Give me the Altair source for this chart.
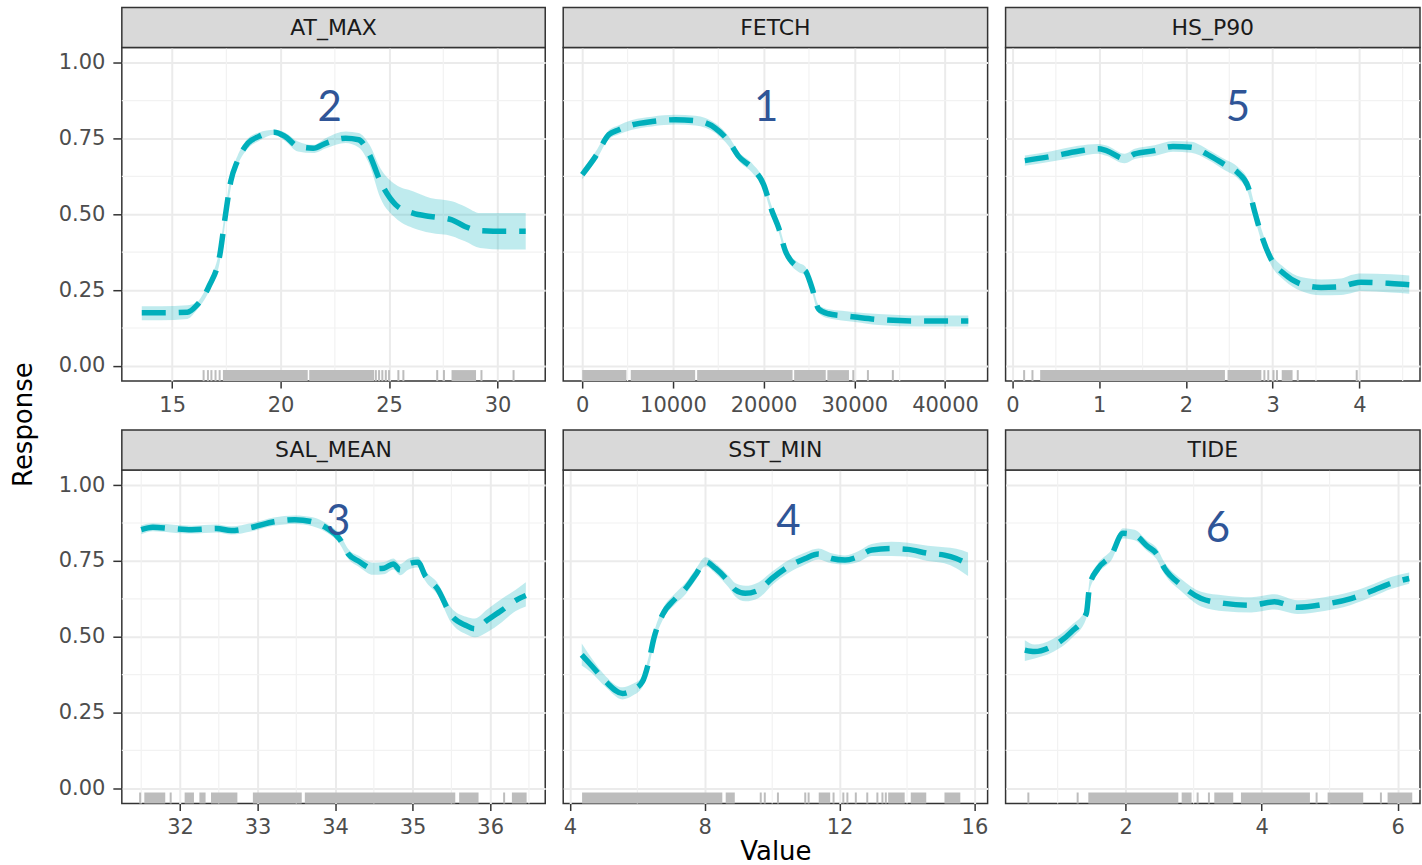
import altair as alt
import pandas as pd

# ---------------- data ----------------
names = ["AT_MAX", "FETCH", "HS_P90", "SAL_MEAN", "SST_MIN", "TIDE"]
ranks = ["2", "1", "5", "3", "4", "6"]

at_x = [13.6, 14.5, 15.7, 16.1, 16.7, 17.2, 17.46, 17.7, 18.0, 18.5, 19.0, 19.7, 20.2, 20.8, 21.5, 22.1, 23.0, 23.6, 24.1, 24.6, 25.3, 26.1, 26.9, 27.9, 28.5, 29.2, 30.3, 31.3]
at_fit = [0.175, 0.175, 0.177, 0.197, 0.263, 0.367, 0.499, 0.608, 0.674, 0.735, 0.757, 0.771, 0.757, 0.724, 0.718, 0.735, 0.751, 0.746, 0.696, 0.608, 0.532, 0.504, 0.493, 0.482, 0.460, 0.446, 0.444, 0.444]
at_lo = [0.151, 0.151, 0.155, 0.181, 0.247, 0.345, 0.477, 0.585, 0.658, 0.718, 0.742, 0.762, 0.742, 0.707, 0.702, 0.718, 0.735, 0.720, 0.663, 0.554, 0.488, 0.455, 0.439, 0.428, 0.411, 0.389, 0.384, 0.384]
at_hi = [0.197, 0.197, 0.200, 0.208, 0.280, 0.390, 0.521, 0.630, 0.691, 0.751, 0.770, 0.779, 0.770, 0.740, 0.729, 0.752, 0.773, 0.768, 0.729, 0.652, 0.598, 0.576, 0.554, 0.543, 0.526, 0.504, 0.504, 0.504]

fe_x = [0, 1470, 2940, 4040, 5500, 7700, 10280, 12480, 14680, 16150, 17250, 18720, 20000, 20920, 21650, 22390, 23850, 24590, 25320, 26060, 27160, 28620, 30090, 32660, 37060, 42570]
fe_fit = [0.631, 0.691, 0.763, 0.779, 0.795, 0.806, 0.812, 0.809, 0.784, 0.741, 0.691, 0.653, 0.598, 0.511, 0.456, 0.380, 0.325, 0.314, 0.259, 0.188, 0.172, 0.166, 0.161, 0.153, 0.148, 0.148]
fe_lo = [0.616, 0.676, 0.748, 0.764, 0.779, 0.790, 0.796, 0.793, 0.768, 0.725, 0.676, 0.638, 0.583, 0.497, 0.442, 0.366, 0.310, 0.300, 0.245, 0.174, 0.157, 0.150, 0.145, 0.135, 0.130, 0.130]
fe_hi = [0.646, 0.706, 0.778, 0.794, 0.811, 0.822, 0.828, 0.825, 0.800, 0.757, 0.706, 0.668, 0.613, 0.525, 0.470, 0.394, 0.340, 0.328, 0.273, 0.202, 0.187, 0.182, 0.177, 0.171, 0.166, 0.166]

hs_x = [0.142, 0.449, 0.756, 0.987, 1.083, 1.294, 1.409, 1.639, 1.850, 2.061, 2.253, 2.445, 2.599, 2.714, 2.791, 2.868, 2.983, 3.136, 3.328, 3.559, 3.789, 3.904, 4.019, 4.365, 4.576]
hs_fit = [0.677, 0.691, 0.708, 0.716, 0.710, 0.684, 0.699, 0.710, 0.724, 0.721, 0.697, 0.664, 0.637, 0.593, 0.511, 0.434, 0.352, 0.303, 0.270, 0.259, 0.261, 0.270, 0.276, 0.272, 0.268]
hs_lo = [0.660, 0.674, 0.690, 0.700, 0.693, 0.668, 0.682, 0.692, 0.706, 0.703, 0.680, 0.646, 0.618, 0.572, 0.490, 0.414, 0.332, 0.282, 0.247, 0.233, 0.234, 0.240, 0.247, 0.242, 0.238]
hs_hi = [0.694, 0.708, 0.726, 0.732, 0.727, 0.700, 0.716, 0.728, 0.742, 0.739, 0.714, 0.682, 0.656, 0.614, 0.532, 0.454, 0.372, 0.324, 0.293, 0.285, 0.288, 0.300, 0.305, 0.302, 0.298]

sa_x = [31.50, 31.65, 31.88, 32.15, 32.47, 32.66, 32.93, 33.21, 33.48, 33.71, 33.90, 34.06, 34.17, 34.31, 34.49, 34.63, 34.75, 34.84, 34.95, 35.07, 35.16, 35.32, 35.50, 35.69, 35.80, 35.96, 36.15, 36.33, 36.46]
sa_fit = [0.853, 0.861, 0.857, 0.853, 0.857, 0.850, 0.861, 0.879, 0.886, 0.879, 0.857, 0.822, 0.773, 0.748, 0.724, 0.726, 0.740, 0.720, 0.740, 0.746, 0.702, 0.658, 0.570, 0.537, 0.526, 0.554, 0.587, 0.620, 0.636]
sa_lo = [0.838, 0.848, 0.844, 0.840, 0.844, 0.837, 0.848, 0.866, 0.872, 0.864, 0.842, 0.806, 0.757, 0.730, 0.704, 0.706, 0.722, 0.703, 0.722, 0.728, 0.685, 0.638, 0.545, 0.508, 0.498, 0.515, 0.548, 0.585, 0.600]
sa_hi = [0.868, 0.874, 0.870, 0.866, 0.870, 0.864, 0.875, 0.893, 0.900, 0.894, 0.872, 0.838, 0.789, 0.766, 0.744, 0.746, 0.758, 0.740, 0.758, 0.764, 0.720, 0.678, 0.595, 0.566, 0.560, 0.590, 0.625, 0.655, 0.680]

ss_x = [4.35, 4.67, 5.06, 5.56, 5.85, 6.15, 6.34, 6.49, 6.74, 7.13, 7.43, 7.72, 8.02, 8.32, 8.71, 8.91, 9.20, 9.60, 9.99, 10.48, 10.98, 11.37, 11.76, 12.16, 12.55, 12.95, 13.54, 14.03, 14.62, 15.11, 15.46, 15.81]
ss_fit = [0.440, 0.401, 0.352, 0.313, 0.324, 0.352, 0.418, 0.495, 0.571, 0.626, 0.659, 0.703, 0.747, 0.725, 0.681, 0.654, 0.643, 0.654, 0.692, 0.731, 0.758, 0.773, 0.758, 0.753, 0.764, 0.786, 0.791, 0.788, 0.775, 0.769, 0.758, 0.740]
ss_lo = [0.405, 0.378, 0.334, 0.293, 0.305, 0.334, 0.400, 0.477, 0.553, 0.608, 0.640, 0.685, 0.732, 0.708, 0.662, 0.632, 0.617, 0.628, 0.670, 0.710, 0.738, 0.755, 0.742, 0.738, 0.746, 0.766, 0.766, 0.764, 0.750, 0.742, 0.726, 0.700]
ss_hi = [0.478, 0.425, 0.370, 0.333, 0.344, 0.370, 0.436, 0.513, 0.589, 0.644, 0.678, 0.722, 0.762, 0.742, 0.700, 0.676, 0.668, 0.680, 0.714, 0.752, 0.778, 0.791, 0.775, 0.768, 0.782, 0.806, 0.813, 0.810, 0.800, 0.795, 0.790, 0.778]

ti_x = [0.517, 0.663, 0.908, 1.202, 1.422, 1.471, 1.594, 1.789, 1.961, 2.132, 2.328, 2.450, 2.573, 2.818, 3.111, 3.454, 3.846, 4.188, 4.531, 4.923, 5.315, 5.657, 5.902, 6.171]
ti_fit = [0.456, 0.451, 0.467, 0.516, 0.577, 0.670, 0.725, 0.769, 0.841, 0.835, 0.797, 0.775, 0.725, 0.670, 0.626, 0.610, 0.604, 0.615, 0.597, 0.607, 0.626, 0.654, 0.676, 0.692]
ti_lo = [0.420, 0.428, 0.447, 0.494, 0.560, 0.655, 0.708, 0.752, 0.824, 0.818, 0.780, 0.757, 0.706, 0.650, 0.600, 0.584, 0.580, 0.590, 0.575, 0.585, 0.605, 0.634, 0.657, 0.675]
ti_hi = [0.488, 0.474, 0.490, 0.538, 0.594, 0.688, 0.742, 0.786, 0.858, 0.853, 0.815, 0.795, 0.745, 0.690, 0.648, 0.636, 0.630, 0.640, 0.620, 0.630, 0.648, 0.675, 0.697, 0.712]

# rug: dense stretches (start, end) and lone ticks
at_rug_start = [17.34, 21.32, 27.88]
at_rug_end = [21.25, 24.31, 29.01]
at_rug_ticks = [16.45, 16.65, 16.81, 17.0, 17.19, 24.39, 24.54, 24.69, 24.85, 25.0, 25.43, 25.66, 27.22, 27.53, 29.26, 30.74]
fe_rug_start = [0, 5350, 12670, 23370, 27030]
fe_rug_end = [4870, 12450, 23190, 26850, 29410]
fe_rug_ticks = [29890, 31500, 34250]
hs_rug_start = [0.319, 2.48, 3.105]
hs_rug_end = [2.45, 2.87, 3.23]
hs_rug_ticks = [0.134, 0.23, 2.905, 2.95, 3.01, 3.05, 3.29, 3.97]
sa_rug_start = [31.54, 32.06, 32.25, 32.40, 32.94, 33.61, 35.60, 36.28]
sa_rug_end = [31.81, 32.18, 32.33, 32.74, 33.57, 35.55, 35.85, 36.47]
sa_rug_ticks = [31.486, 31.88, 36.18]
ss_rug_start = [4.36, 8.62, 11.38, 13.44, 14.11, 15.11]
ss_rug_end = [8.52, 8.89, 11.72, 13.93, 14.57, 15.58]
ss_rug_ticks = [9.66, 9.78, 10.17, 10.98, 11.08, 11.82, 12.11, 12.23, 12.48, 12.82, 13.12, 13.27, 13.37]
ti_rug_start = [1.451, 2.824, 3.304, 3.696, 4.971, 5.853]
ti_rug_end = [2.775, 2.97, 3.583, 4.711, 5.495, 6.216]
ti_rug_ticks = [0.569, 1.294, 3.059, 3.225, 4.809, 5.755]

# rank label positions (data units)
rank_x = [22.26, 20290, 2.60, 34.04, 10.48, 3.356]
rank_y = [0.85, 0.85, 0.85, 0.877, 0.879, 0.855]

# axes
x_domains = [[12.68, 32.2], [-2100, 44700], [-0.08, 4.70], [31.25, 36.71], [3.80, 16.39], [0.234, 6.33]]
x_major = [[15, 20, 25, 30], [0, 10000, 20000, 30000, 40000], [0, 1, 2, 3, 4],
           [32, 33, 34, 35, 36], [4, 8, 12, 16], [2, 4, 6]]
x_minor = [[17.5, 22.5, 27.5], [5000, 15000, 25000, 35000], [0.5, 1.5, 2.5, 3.5, 4.5],
           [31.5, 32.5, 33.5, 34.5, 35.5, 36.5], [6, 10, 14], [1, 3, 5]]
y_major = [0, 0.25, 0.5, 0.75, 1.0]
y_minor = [0.125, 0.375, 0.625, 0.875]

curves = [(at_x, at_fit, at_lo, at_hi), (fe_x, fe_fit, fe_lo, fe_hi), (hs_x, hs_fit, hs_lo, hs_hi),
          (sa_x, sa_fit, sa_lo, sa_hi), (ss_x, ss_fit, ss_lo, ss_hi), (ti_x, ti_fit, ti_lo, ti_hi)]
rugs = [(at_rug_start, at_rug_end, at_rug_ticks), (fe_rug_start, fe_rug_end, fe_rug_ticks),
        (hs_rug_start, hs_rug_end, hs_rug_ticks), (sa_rug_start, sa_rug_end, sa_rug_ticks),
        (ss_rug_start, ss_rug_end, ss_rug_ticks), (ti_rug_start, ti_rug_end, ti_rug_ticks)]

# ---------------- styling ----------------
TEAL = "#00AFBB"
H = 334
WIDTHS = [424, 425, 415, 424, 425, 415]
STRIP = 40
FONT = "DejaVu Sans"


def make_panel(i):
    W = WIDTHS[i]
    left = i % 3 == 0
    xs, fit, lo, hi = curves[i]
    rs, re_, rt = rugs[i]
    xscale = alt.Scale(domain=x_domains[i], nice=False, zero=False)
    yscale = alt.Scale(domain=[-0.05, 1.05], nice=False, zero=False)
    xaxis = alt.Axis(values=x_major[i], format="d", grid=True,
                     title=("Value" if i == 4 else None))
    if left:
        yaxis = alt.Axis(values=y_major, format=".2f", grid=True, title=None)
    else:
        yaxis = alt.Axis(values=y_major, grid=True, labels=False, ticks=False, title=None)

    def X(f):
        return alt.X(f, type="quantitative", scale=xscale, axis=xaxis)

    def Y(f):
        return alt.Y(f, type="quantitative", scale=yscale, axis=yaxis)

    curve = pd.DataFrame({"x": xs, "fit": fit, "lo": lo, "hi": hi})
    minx = pd.DataFrame({"mx": x_minor[i]})
    miny = pd.DataFrame({"my": y_minor})
    blocks = pd.DataFrame({"r1": rs, "r2": re_})
    ticks = pd.DataFrame({"rt": rt})
    lab = pd.DataFrame({"lx": [rank_x[i]], "ly": [rank_y[i]], "t": [ranks[i]]})
    strip = pd.DataFrame({"name": [names[i]]})

    gx = alt.Chart(minx).mark_rule(color="#f2f2f2", strokeWidth=1.2).encode(
        x=X("mx"), y=alt.value(0), y2=alt.value(H))
    gy = alt.Chart(miny).mark_rule(color="#f2f2f2", strokeWidth=1.2).encode(
        y=Y("my"), x=alt.value(0), x2=alt.value(W))
    band = alt.Chart(curve).mark_area(color=TEAL, opacity=0.25, interpolate="monotone").encode(
        x=X("x"), y=Y("lo"), y2="hi")
    line = alt.Chart(curve).mark_line(color=TEAL, strokeWidth=5.5, strokeDash=[24, 13],
                                      interpolate="monotone").encode(x=X("x"), y=Y("fit"))
    rb = alt.Chart(blocks).mark_rect(color="#bdbdbd").encode(
        x=X("r1"), x2="r2", y=alt.value(H - 11), y2=alt.value(H))
    rtk = alt.Chart(ticks).mark_rule(color="#bdbdbd", strokeWidth=2).encode(
        x=X("rt"), y=alt.value(H - 11), y2=alt.value(H))
    num = alt.Chart(lab).mark_text(font="Lato", fontSize=42, color="#2F5597",
                                   baseline="middle", align="center").encode(
        x=X("lx"), y=Y("ly"), text="t:N")
    srect = alt.Chart(strip).mark_rect(fill="#d9d9d9", stroke="#333333", strokeWidth=1.5).encode(
        x=alt.value(0), x2=alt.value(W), y=alt.value(-STRIP), y2=alt.value(0))
    stext = alt.Chart(strip).mark_text(font=FONT, fontSize=22, color="#1a1a1a",
                                       baseline="middle", align="center").encode(
        x=alt.value(W / 2), y=alt.value(-STRIP / 2), text="name:N")

    return alt.layer(gx, gy, band, line, rb, rtk, num, srect, stext).properties(width=W, height=H)


chart = alt.concat(*[make_panel(i) for i in range(6)], columns=3,
                   spacing={"row": 89, "column": 18}, bounds="flush").properties(
    title=alt.TitleParams("Response", orient="left", anchor="middle",
                          font=FONT, fontSize=26, fontWeight="normal", color="black",
                          offset=20, dx=11),
    padding={"left": 11, "top": 5, "right": 0, "bottom": 0},
).configure_view(
    stroke="#333333", strokeWidth=1.5
).configure_axis(
    labelFont=FONT, labelFontSize=21, labelColor="#4d4d4d",
    tickColor="#333333", tickWidth=1.5, domain=False,
    gridColor="#ebebeb", gridWidth=2,
    titleFont=FONT, titleFontSize=26, titleFontWeight="normal", titleColor="black",
).configure_axisX(
    tickSize=7, labelPadding=6, titlePadding=1
).configure_axisY(
    tickSize=9, labelPadding=8
)

chart.save("out.html", embed_options={"renderer": "svg", "actions": False})
